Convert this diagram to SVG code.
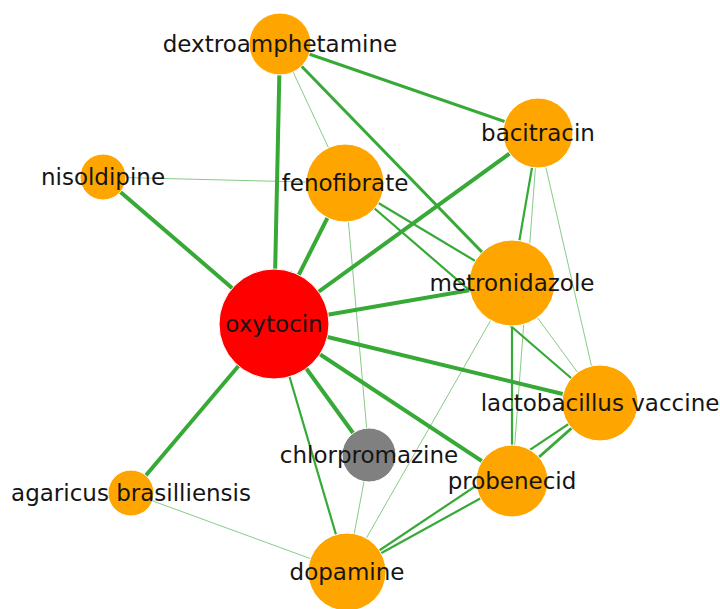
<svg xmlns="http://www.w3.org/2000/svg" width="720" height="609" viewBox="0 0 720 609">
<style>
.e{stroke:#36a936;fill:none;stroke-linecap:butt}
.t4{stroke-width:4}
.t3{stroke-width:3}
.t2{stroke-width:2.2}
.t1{stroke-width:1;stroke-opacity:0.6}
.n{stroke:#ffffff;stroke-width:1}
.o{fill:#ffa500}
.r{fill:#ff0000}
.g{fill:#808080}
text{font-family:"DejaVu Sans","Liberation Sans",sans-serif;font-size:23px;fill:#151515;text-anchor:middle}
</style>
<rect width="720" height="609" fill="#ffffff"/>
<g id="edges">
<line class="e t4" x1="274" y1="324" x2="280" y2="44"/>
<line class="e t4" x1="274" y1="324" x2="103" y2="177"/>
<line class="e t4" x1="274" y1="324" x2="345" y2="183"/>
<line class="e t4" x1="274" y1="324" x2="538" y2="133"/>
<line class="e t4" x1="274" y1="324" x2="512" y2="283"/>
<line class="e t4" x1="274" y1="324" x2="600" y2="403"/>
<line class="e t4" x1="274" y1="324" x2="512" y2="481"/>
<line class="e t4" x1="274" y1="324" x2="369" y2="455" stroke-width="5"/>
<line class="e t4" x1="274" y1="324" x2="131" y2="493"/>
<line class="e t2" x1="274" y1="324" x2="347" y2="572"/>
<line class="e t3" x1="280" y1="44" x2="538" y2="133"/>
<line class="e t3" x1="280" y1="44" x2="512" y2="283"/>
<line class="e t1" x1="280" y1="44" x2="345" y2="183"/>
<line class="e t1" x1="103" y1="177" x2="345" y2="183"/>
<line class="e t2" x1="345" y1="183" x2="512" y2="283"/>
<line class="e t2" x1="345" y1="183" x2="600" y2="403"/>
<line class="e t1" x1="345" y1="183" x2="369" y2="455"/>
<line class="e t1" x1="369" y1="455" x2="347" y2="572"/>
<line class="e t2" x1="538" y1="133" x2="512" y2="283" stroke-width="1.6"/>
<line class="e t1" x1="538" y1="133" x2="512" y2="481"/>
<line class="e t1" x1="538" y1="133" x2="600" y2="403"/>
<line class="e t2" x1="512" y1="283" x2="512" y2="481"/>
<line class="e t1" x1="512" y1="283" x2="600" y2="403"/>
<line class="e t1" x1="512" y1="283" x2="347" y2="572"/>
<line class="e t3" x1="600" y1="403" x2="512" y2="481"/>
<line class="e t2" x1="600" y1="403" x2="347" y2="572" stroke-width="2.5"/>
<line class="e t2" x1="512" y1="481" x2="347" y2="572" stroke-width="2.5"/>
<line class="e t1" x1="131" y1="493" x2="347" y2="572"/>
</g>
<g id="n-dextroamphetamine"><circle class="n o" cx="280" cy="44" r="31"/><text x="280" y="52">dextroamphetamine</text></g>
<g id="n-bacitracin"><circle class="n o" cx="538" cy="133" r="35"/><text x="538" y="141">bacitracin</text></g>
<g id="n-nisoldipine"><circle class="n o" cx="103" cy="177" r="23"/><text x="103" y="185">nisoldipine</text></g>
<g id="n-fenofibrate"><circle class="n o" cx="345" cy="183" r="39"/><text x="345" y="191">fenofibrate</text></g>
<g id="n-metronidazole"><circle class="n o" cx="512" cy="283" r="43"/><text x="512" y="291">metronidazole</text></g>
<g id="n-oxytocin"><circle class="n r" cx="274" cy="324" r="55"/><text x="274" y="332">oxytocin</text></g>
<g id="n-chlorpromazine"><circle class="n g" cx="369" cy="455" r="27"/><text x="369" y="463">chlorpromazine</text></g>
<g id="n-probenecid"><circle class="n o" cx="512" cy="481" r="36"/><text x="512" y="489">probenecid</text></g>
<g id="n-lactobacillus-vaccine"><circle class="n o" cx="600" cy="403" r="38"/><text x="600" y="411">lactobacillus vaccine</text></g>
<g id="n-agaricus-brasilliensis"><circle class="n o" cx="131" cy="493" r="23"/><text x="131" y="501">agaricus brasilliensis</text></g>
<g id="n-dopamine"><circle class="n o" cx="347" cy="572" r="39"/><text x="347" y="580">dopamine</text></g>
</svg>
